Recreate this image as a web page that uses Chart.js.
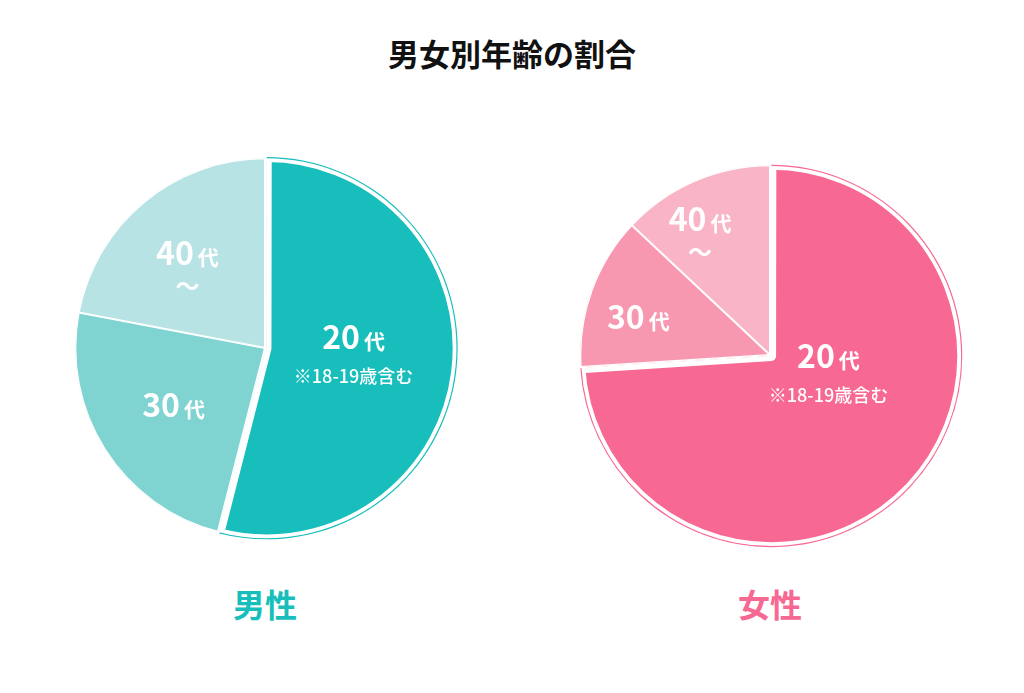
<!DOCTYPE html>
<html lang="ja">
<head>
<meta charset="utf-8">
<script src="https://cdn.jsdelivr.net/npm/chart.js@4"></script>
<style>
  body { margin: 0; width: 1024px; height: 693px; background: #fff; font-family: "Noto Sans CJK JP", sans-serif; position: relative; overflow: hidden; }
  h1 { position: absolute; top: 30px; left: 0; width: 1024px; margin: 0; text-align: center; font-size: 31px; font-weight: 700; color: #111; }
  .box { position: absolute; width: 386px; height: 386px; }
  .cap { position: absolute; width: 200px; text-align: center; font-size: 32px; font-weight: 700; top: 580px; }
</style>
</head>
<body>
<h1>男女別年齢の割合</h1>
<div class="box" style="left:72px;top:155px"><canvas id="male"></canvas></div>
<div class="box" style="left:577px;top:162px"><canvas id="female"></canvas></div>
<div class="cap" style="left:165px;color:#17bebb">男性</div>
<div class="cap" style="left:670px;color:#f76892">女性</div>
<script>
// age groups and shares (%)
const categories = ["20代", "30代", "40代〜"];
const maleShares = [54, 24, 22];
const femaleShares = [74, 13, 13];

const maleColors = ["#17bebb", "#7fd4d2", "#b7e3e4"];
const femaleColors = ["#f76892", "#f797b0", "#f9b4c6"];

// label placement: [angle offset in deg from slice middle, radius fraction]
const maleLabelPos = [[0, 0.47], [0, 0.57], [0, 0.64]];
const femaleLabelPos = [[-22, 0.33], [-4, 0.72], [-4, 0.8]];

const sliceLabels = {
  id: "sliceLabels",
  afterDatasetsDraw(chart, args, opts) {
    const { ctx } = chart;
    chart.getDatasetMeta(0).data.forEach((arc, i) => {
      const mid = (arc.startAngle + arc.endAngle) / 2 + opts.pos[i][0] * Math.PI / 180;
      const r = arc.outerRadius * opts.pos[i][1];
      const x = arc.x + Math.cos(mid) * r;
      const y = arc.y + Math.sin(mid) * r;
      const name = categories[i];
      const num = name.match(/\d+/)[0];
      ctx.save();
      ctx.fillStyle = "#fff";
      ctx.textBaseline = "alphabetic";
      ctx.font = "700 32px 'Noto Sans CJK JP'";
      const w1 = ctx.measureText(num).width;
      ctx.font = "700 21px 'Noto Sans CJK JP'";
      const w2 = ctx.measureText("代").width;
      const sx = x - (w1 + w2 + 4) / 2;
      const by = i === 0 ? y - 10 : y + 11;
      ctx.font = "700 32px 'Noto Sans CJK JP'";
      ctx.textAlign = "left";
      ctx.fillText(num, sx, by);
      ctx.font = "700 21px 'Noto Sans CJK JP'";
      ctx.fillText("代", sx + w1 + 4, by);
      ctx.textAlign = "center";
      if (i === 0) {
        ctx.font = "500 18px 'Noto Sans CJK JP'";
        ctx.fillText("※18-19歳含む", x, by + 34);
      }
      if (name.endsWith("〜")) {
        ctx.font = "700 24px 'Noto Sans CJK JP'";
        ctx.fillText("〜", x, by + 30);
      }
      ctx.restore();
    });
  }
};

const makePie = (id, shares, colors, pos) => new Chart(document.getElementById(id), {
  type: "pie",
  data: {
    labels: categories,
    datasets: [{
      data: shares,
      backgroundColor: colors,
      borderColor: "#fff",
      borderWidth: [5, 1, 1],
      borderAlign: "inner",
      offset: [6, 0, 0],
      hoverOffset: 0
    }]
  },
  options: {
    responsive: true,
    maintainAspectRatio: false,
    animation: false,
    layout: { padding: 0 },
    plugins: {
      legend: { display: false },
      tooltip: { enabled: false },
      sliceLabels: { pos }
    }
  },
  plugins: [sliceLabels]
});

makePie("male", maleShares, maleColors, maleLabelPos);
makePie("female", femaleShares, femaleColors, femaleLabelPos);
</script>
</body>
</html>
